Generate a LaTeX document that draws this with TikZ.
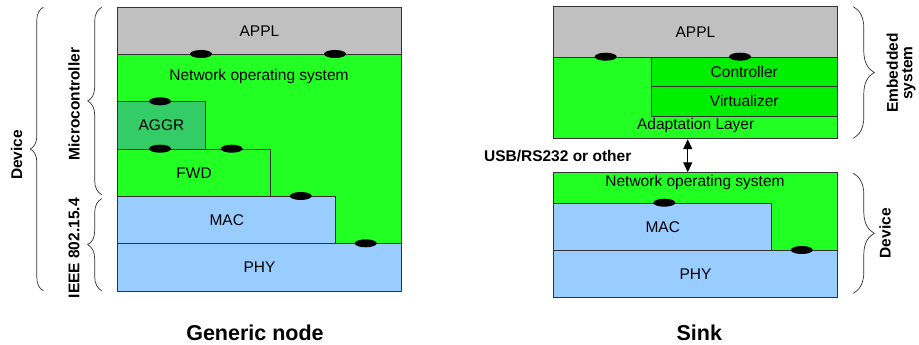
\documentclass[tikz,border=0pt]{standalone}
\usepackage{fontspec}
\setmainfont{Liberation Sans}
\usetikzlibrary{arrows.meta,decorations.pathreplacing,shapes.geometric}
\definecolor{ApplGray}{HTML}{C0C0C0}
\definecolor{NosGreen}{HTML}{22FF22}
\definecolor{AggrGreen}{HTML}{33CC66}
\definecolor{CtrlGreen}{HTML}{00EE00}
\definecolor{PhyBlue}{HTML}{99CCFF}
\definecolor{EdgeGray}{HTML}{333333}
\tikzset{
  layer/.style={draw=EdgeGray, line width=0.9pt, inner sep=0pt, anchor=north west, font=\fontsize{15.5}{18}\selectfont},
  layertext/.style={inner sep=0pt, font=\fontsize{15.5}{18}\selectfont},
  sap/.style={ellipse, fill=black, minimum width=22pt, minimum height=8pt, inner sep=0pt},
  sidelabel/.style={rotate=90, align=center, inner sep=1pt, font=\fontsize{15.5}{14.5}\selectfont\bfseries},
  sidebrace/.style={decorate, decoration={brace, amplitude=#1}, draw=EdgeGray, line width=0.7pt},
  titlelabel/.style={font=\fontsize{21.5}{24}\selectfont\bfseries},
  linkarrow/.style={{Triangle[width=9pt,length=10pt]}-{Triangle[width=9pt,length=10pt]}, line width=1.2pt}
}

\begin{document}
\begin{tikzpicture}[x=1pt,y=-1pt]
  \useasboundingbox (0,0) rectangle (919,345);
  % generic node stack
  \node[layer, fill=ApplGray, minimum width=283.4pt, minimum height=47.3pt] (appl) at (117.3,6.7) {APPL};
  \node[layer, fill=NosGreen, minimum width=283.4pt, minimum height=189.3pt] (nos) at (117.3,54) {};
  \node[layertext] (nostext) at (259,76) {Network operating system};
  \node[layer, fill=AggrGreen, minimum width=87.4pt, minimum height=47.4pt] (aggr) at (117.3,101.3) {AGGR};
  \node[layer, fill=NosGreen, minimum width=152.7pt, minimum height=47.3pt] (fwd) at (117.3,148.7) {FWD};
  \node[layer, fill=PhyBlue, minimum width=218pt, minimum height=47.3pt] (mac) at (117.3,196) {MAC};
  \node[layer, fill=PhyBlue, minimum width=283.4pt, minimum height=47.4pt] (phy) at (117.3,243.3) {PHY};
  \node[sap] (sap1) at (201,54) {};
  \node[sap] (sap2) at (335,54) {};
  \node[sap] (sap3) at (160,101.3) {};
  \node[sap] (sap4) at (160,148.7) {};
  \node[sap] (sap5) at (231.7,148.7) {};
  \node[sap] (sap6) at (300.7,196) {};
  \node[sap] (sap7) at (365.7,243.3) {};
  \draw[sidebrace=13pt] (43.3,290.7) -- (43.3,7.3);
  \draw[sidebrace=14pt] (101.7,194.7) -- (101.7,7.3);
  \draw[sidebrace=14pt] (101.7,290.7) -- (101.7,198.7);
  \node[sidelabel] (devlabel) at (16.7,155) {Device};
  \node[sidelabel] (mculabel) at (74,104.3) {Microcontroller};
  \node[sidelabel] (ieeelabel) at (74,248.3) {IEEE 802.15.4};
  \node[titlelabel] (gentitle) at (255,333.3) {Generic node};

  % sink: embedded system
  \node[layer, fill=ApplGray, minimum width=283.4pt, minimum height=50.7pt] (sappl) at (553.3,6) {APPL};
  \node[layer, fill=NosGreen, minimum width=283.4pt, minimum height=81.6pt] (adapt) at (553.3,56.7) {};
  \node[layer, fill=CtrlGreen, minimum width=185.7pt, minimum height=29.3pt] (ctrl) at (651,56.7) {Controller};
  \node[layer, fill=CtrlGreen, minimum width=185.7pt, minimum height=29.7pt] (virt) at (651,86) {Virtualizer};
  \node[layertext] (adapttext) at (695.7,125) {Adaptation Layer};
  \node[sap] (ssap1) at (605.7,56.7) {};
  \node[sap] (ssap2) at (740,56.7) {};

  % sink: device
  \node[layer, fill=NosGreen, minimum width=283.4pt, minimum height=125pt] (snos) at (553.3,172.3) {};
  \node[layertext] (snostext) at (695,182.7) {Network operating system};
  \node[layer, fill=PhyBlue, minimum width=218pt, minimum height=47.3pt] (smac) at (553.3,202.7) {MAC};
  \node[layer, fill=PhyBlue, minimum width=283.4pt, minimum height=47.3pt] (sphy) at (553.3,250) {PHY};
  \node[sap] (ssap3) at (664.3,202.7) {};
  \node[sap] (ssap4) at (801.7,250) {};

  \draw[linkarrow] ([xshift=-7.7pt]adapt.south) -- ([xshift=-7.7pt]snos.north);
  \node[font=\fontsize{15.5}{18}\selectfont\bfseries] (linklabel) at (557.7,155.7) {USB/RS232 or other};

  \draw[sidebrace=21pt] (853.3,6.7) -- (853.3,138.3);
  \draw[sidebrace=21pt] (853.3,173.3) -- (853.3,293.3);
  \node[sidelabel] (emblabel) at (901,73) {Embedded\\system};
  \node[sidelabel] (sdevlabel) at (885,233.3) {Device};
  \node[titlelabel] (sinktitle) at (699.3,333.3) {Sink};
\end{tikzpicture}
\end{document}
